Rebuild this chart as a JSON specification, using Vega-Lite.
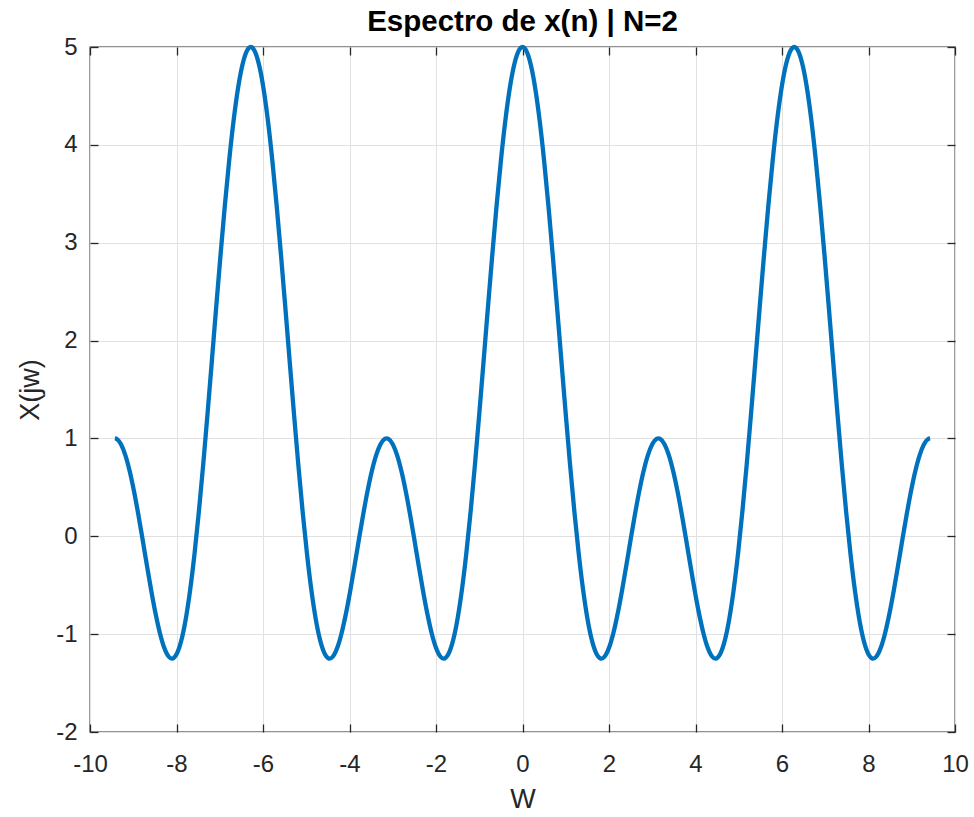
{
  "$schema": "https://vega.github.io/schema/vega-lite/v6.json",
  "width": 865,
  "height": 685,
  "autosize": "none",
  "padding": {"left": 90, "top": 47, "right": 19, "bottom": 85},
  "background": "white",
  "title": {"text": "Espectro de x(n) | N=2", "font": "Liberation Sans", "fontSize": 29.5, "fontWeight": "bold", "color": "black", "baseline": "alphabetic", "offset": 15, "frame": "group", "dy": 40},
  "config": {
    "view": {"stroke": "#262626", "strokeWidth": 1.3},
    "axis": {"labelFont": "Liberation Sans", "titleFont": "Liberation Sans", "labelColor": "#262626", "titleColor": "#262626", "tickColor": "#262626", "gridColor": "#e1e1e1", "domain": false, "labelFlush": false}
  },
  "data": {"values": [
    {"w":-9.4248,"X":1},{"w":-9.3832,"X":0.9948},{"w":-9.2832,"X":0.9404},{"w":-9.1832,"X":0.8291},{"w":-9.0832,"X":0.6667},{"w":-8.9832,"X":0.4612},{"w":-8.8832,"X":0.2233},{"w":-8.7832,"X":-0.035},{"w":-8.6832,"X":-0.2998},{"w":-8.5832,"X":-0.5569},{"w":-8.4832,"X":-0.7917},{"w":-8.3832,"X":-0.9902},{"w":-8.2832,"X":-1.1396},{"w":-8.1832,"X":-1.2285},{"w":-8.1062,"X":-1.25},{"w":-8.0832,"X":-1.2479},{"w":-7.9832,"X":-1.1913},{"w":-7.8832,"X":-1.055},{"w":-7.7832,"X":-0.8385},{"w":-7.6832,"X":-0.5445},{"w":-7.5832,"X":-0.1788},{"w":-7.4832,"X":0.2499},{"w":-7.3832,"X":0.7302},{"w":-7.2832,"X":1.2483},{"w":-7.1832,"X":1.7888},{"w":-7.0832,"X":2.335},{"w":-6.9832,"X":2.8696},{"w":-6.8832,"X":3.3754},{"w":-6.7832,"X":3.8358},{"w":-6.6832,"X":4.2355},{"w":-6.5832,"X":4.5613},{"w":-6.4832,"X":4.8023},{"w":-6.3832,"X":4.9501},
    {"w":-6.2832,"X":5},{"w":-6.1832,"X":4.9501},{"w":-6.0832,"X":4.8023},{"w":-5.9832,"X":4.5613},{"w":-5.8832,"X":4.2355},{"w":-5.7832,"X":3.8358},{"w":-5.6832,"X":3.3754},{"w":-5.5832,"X":2.8696},{"w":-5.4832,"X":2.335},{"w":-5.3832,"X":1.7888},{"w":-5.2832,"X":1.2483},{"w":-5.1832,"X":0.7302},{"w":-5.0832,"X":0.2499},{"w":-4.9832,"X":-0.1788},{"w":-4.8832,"X":-0.5445},{"w":-4.7832,"X":-0.8385},{"w":-4.6832,"X":-1.055},{"w":-4.5832,"X":-1.1913},{"w":-4.4832,"X":-1.2479},{"w":-4.4602,"X":-1.25},{"w":-4.3832,"X":-1.2285},{"w":-4.2832,"X":-1.1396},{"w":-4.1832,"X":-0.9902},{"w":-4.0832,"X":-0.7917},{"w":-3.9832,"X":-0.5569},{"w":-3.8832,"X":-0.2998},{"w":-3.7832,"X":-0.035},{"w":-3.6832,"X":0.2233},{"w":-3.5832,"X":0.4612},{"w":-3.4832,"X":0.6667},{"w":-3.3832,"X":0.8291},{"w":-3.2832,"X":0.9404},{"w":-3.1832,"X":0.9948},
    {"w":-3.1416,"X":1},{"w":-3.1,"X":0.9948},{"w":-3.0,"X":0.9404},{"w":-2.9,"X":0.8291},{"w":-2.8,"X":0.6667},{"w":-2.7,"X":0.4612},{"w":-2.6,"X":0.2233},{"w":-2.5,"X":-0.035},{"w":-2.4,"X":-0.2998},{"w":-2.3,"X":-0.5569},{"w":-2.2,"X":-0.7917},{"w":-2.1,"X":-0.9902},{"w":-2.0,"X":-1.1396},{"w":-1.9,"X":-1.2285},{"w":-1.823,"X":-1.25},{"w":-1.8,"X":-1.2479},{"w":-1.7,"X":-1.1913},{"w":-1.6,"X":-1.055},{"w":-1.5,"X":-0.8385},{"w":-1.4,"X":-0.5445},{"w":-1.3,"X":-0.1788},{"w":-1.2,"X":0.2499},{"w":-1.1,"X":0.7302},{"w":-1.0,"X":1.2483},{"w":-0.9,"X":1.7888},{"w":-0.8,"X":2.335},{"w":-0.7,"X":2.8696},{"w":-0.6,"X":3.3754},{"w":-0.5,"X":3.8358},{"w":-0.4,"X":4.2355},{"w":-0.3,"X":4.5613},{"w":-0.2,"X":4.8023},{"w":-0.1,"X":4.9501},
    {"w":0,"X":5},{"w":0.1,"X":4.9501},{"w":0.2,"X":4.8023},{"w":0.3,"X":4.5613},{"w":0.4,"X":4.2355},{"w":0.5,"X":3.8358},{"w":0.6,"X":3.3754},{"w":0.7,"X":2.8696},{"w":0.8,"X":2.335},{"w":0.9,"X":1.7888},{"w":1.0,"X":1.2483},{"w":1.1,"X":0.7302},{"w":1.2,"X":0.2499},{"w":1.3,"X":-0.1788},{"w":1.4,"X":-0.5445},{"w":1.5,"X":-0.8385},{"w":1.6,"X":-1.055},{"w":1.7,"X":-1.1913},{"w":1.8,"X":-1.2479},{"w":1.823,"X":-1.25},{"w":1.9,"X":-1.2285},{"w":2.0,"X":-1.1396},{"w":2.1,"X":-0.9902},{"w":2.2,"X":-0.7917},{"w":2.3,"X":-0.5569},{"w":2.4,"X":-0.2998},{"w":2.5,"X":-0.035},{"w":2.6,"X":0.2233},{"w":2.7,"X":0.4612},{"w":2.8,"X":0.6667},{"w":2.9,"X":0.8291},{"w":3.0,"X":0.9404},{"w":3.1,"X":0.9948},{"w":3.1416,"X":1},
    {"w":3.1832,"X":0.9948},{"w":3.2832,"X":0.9404},{"w":3.3832,"X":0.8291},{"w":3.4832,"X":0.6667},{"w":3.5832,"X":0.4612},{"w":3.6832,"X":0.2233},{"w":3.7832,"X":-0.035},{"w":3.8832,"X":-0.2998},{"w":3.9832,"X":-0.5569},{"w":4.0832,"X":-0.7917},{"w":4.1832,"X":-0.9902},{"w":4.2832,"X":-1.1396},{"w":4.3832,"X":-1.2285},{"w":4.4602,"X":-1.25},{"w":4.4832,"X":-1.2479},{"w":4.5832,"X":-1.1913},{"w":4.6832,"X":-1.055},{"w":4.7832,"X":-0.8385},{"w":4.8832,"X":-0.5445},{"w":4.9832,"X":-0.1788},{"w":5.0832,"X":0.2499},{"w":5.1832,"X":0.7302},{"w":5.2832,"X":1.2483},{"w":5.3832,"X":1.7888},{"w":5.4832,"X":2.335},{"w":5.5832,"X":2.8696},{"w":5.6832,"X":3.3754},{"w":5.7832,"X":3.8358},{"w":5.8832,"X":4.2355},{"w":5.9832,"X":4.5613},{"w":6.0832,"X":4.8023},{"w":6.1832,"X":4.9501},{"w":6.2832,"X":5},
    {"w":6.3832,"X":4.9501},{"w":6.4832,"X":4.8023},{"w":6.5832,"X":4.5613},{"w":6.6832,"X":4.2355},{"w":6.7832,"X":3.8358},{"w":6.8832,"X":3.3754},{"w":6.9832,"X":2.8696},{"w":7.0832,"X":2.335},{"w":7.1832,"X":1.7888},{"w":7.2832,"X":1.2483},{"w":7.3832,"X":0.7302},{"w":7.4832,"X":0.2499},{"w":7.5832,"X":-0.1788},{"w":7.6832,"X":-0.5445},{"w":7.7832,"X":-0.8385},{"w":7.8832,"X":-1.055},{"w":7.9832,"X":-1.1913},{"w":8.0832,"X":-1.2479},{"w":8.1062,"X":-1.25},{"w":8.1832,"X":-1.2285},{"w":8.2832,"X":-1.1396},{"w":8.3832,"X":-0.9902},{"w":8.4832,"X":-0.7917},{"w":8.5832,"X":-0.5569},{"w":8.6832,"X":-0.2998},{"w":8.7832,"X":-0.035},{"w":8.8832,"X":0.2233},{"w":8.9832,"X":0.4612},{"w":9.0832,"X":0.6667},{"w":9.1832,"X":0.8291},{"w":9.2832,"X":0.9404},{"w":9.3832,"X":0.9948},{"w":9.4248,"X":1}
  ]},
  "layer": [
    {
      "mark": {"type": "line", "opacity": 0},
      "encoding": {
        "x": {"field": "w", "type": "quantitative", "scale": {"domain": [-10, 10], "nice": false, "zero": false},
              "axis": {"orient": "top", "values": [-10,-8,-6,-4,-2,0,2,4,6,8,10], "labels": false, "grid": false, "title": null, "tickSize": -8, "tickWidth": 1.3, "minExtent": 0, "maxExtent": 0}},
        "y": {"field": "X", "type": "quantitative", "scale": {"domain": [-2, 5], "nice": false, "zero": false},
              "axis": {"orient": "right", "values": [-2,-1,0,1,2,3,4,5], "labels": false, "grid": false, "title": null, "tickSize": -8, "tickWidth": 1.3, "minExtent": 0, "maxExtent": 0}}
      }
    },
    {
      "mark": {"type": "line", "color": "#0072BD", "strokeWidth": 4.3, "interpolate": "monotone"},
      "encoding": {
        "x": {"field": "w", "type": "quantitative",
              "axis": {"orient": "bottom", "values": [-10,-8,-6,-4,-2,0,2,4,6,8,10], "labelExpr": "datum.value + ''", "title": "W", "labelFontSize": 24, "titleFontSize": 27, "titleFontWeight": "normal", "tickSize": -8, "tickWidth": 1.3, "labelPadding": 28, "titlePadding": 10, "grid": true}},
        "y": {"field": "X", "type": "quantitative",
              "axis": {"orient": "left", "values": [-2,-1,0,1,2,3,4,5], "labelExpr": "datum.value + ''", "title": "X(jw)", "labelFontSize": 24, "titleFontSize": 27, "titleFontWeight": "normal", "tickSize": -8, "tickWidth": 1.3, "labelPadding": 21, "titlePadding": 11, "grid": true}}
      }
    }
  ],
  "resolve": {"axis": {"x": "independent", "y": "independent"}}
}
